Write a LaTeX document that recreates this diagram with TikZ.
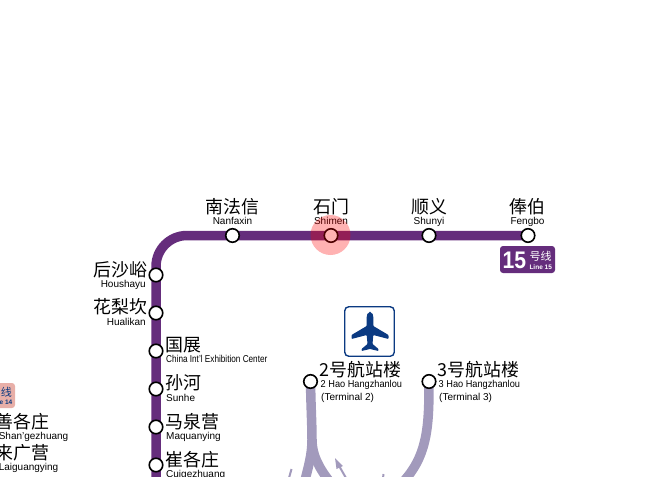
\documentclass[tikz,border=0pt]{standalone}
\usepackage{fontspec}
\usetikzlibrary{backgrounds}
\setmainfont{Liberation Sans}
\newfontfamily\cjk{Noto Sans CJK SC}
\definecolor{lnpurple}{HTML}{652D7C}
\definecolor{lnlilac}{HTML}{A29ABC}
\definecolor{lnblue}{HTML}{0B3A82}
\definecolor{lnpink}{HTML}{E8AFA8}
\begin{document}
\begin{tikzpicture}[
    x=1pt,y=-1pt,
    every node/.style={inner sep=0pt},
    stn/.style={circle, draw=black, fill=white, line width=1.6pt, minimum size=13.5pt},
    zh/.style={font=\cjk\fontsize{17.9}{18}\selectfont},
    py/.style={text height=7.2pt, text depth=0pt, font=\fontsize{10}{11}\selectfont},
    pyn/.style={py, font=\fontsize{10}{11}\selectfont\addfontfeature{FakeStretch=0.92}},
    pyc/.style={py, font=\fontsize{10}{11}\selectfont\addfontfeature{FakeStretch=0.82}},
    badgezh/.style={text height=8.5pt, text depth=0pt, font=\cjk\fontsize{11}{12}\selectfont},
    badgeen/.style={text height=4.6pt, text depth=0pt, font=\bfseries\fontsize{6.5}{7}\selectfont},
    lineXV/.style={draw=lnpurple, line width=9.5pt},
    apm/.style={draw=lnlilac, line width=9.5pt},
    apmthin/.style={draw=lnlilac, line width=2pt}
]
    \useasboundingbox (0,0) rectangle (660,476);

    % stations
    \node[stn] (fengbo) at (528,235.5) {};
    \node[stn] (shunyi) at (429,235.5) {};
    \node[stn] (shimen) at (331,235.5) {};
    \node[stn] (nanfaxin) at (232.5,235.5) {};
    \node[stn] (houshayu) at (156,275) {};
    \node[stn] (hualikan) at (156,313) {};
    \node[stn] (guozhan) at (156,351) {};
    \node[stn] (sunhe) at (156,389) {};
    \node[stn] (maquanying) at (156,427) {};
    \node[stn] (cuigezhuang) at (156,465) {};
    \node[stn] (hzlII) at (310.5,381.5) {};
    \node[stn] (hzlIII) at (429,381.5) {};

    \coordinate (corner) at (156,235.5);
    \coordinate (endXV) at (156,482);
    \coordinate (forkL) at (312,440);
    \coordinate (endL) at (304.5,482);
    \coordinate (endR) at (330,482);
    \coordinate (endT) at (403,482);

    \begin{scope}[on background layer]
        \draw[lineXV, rounded corners=31pt] (fengbo.center) -- (corner) -- (endXV);
        \draw[apm] (hzlII.center) .. controls (311,410) and (312,425) .. (forkL)
            .. controls (312,455) and (308,468) .. (endL);
        \draw[apm] (forkL) .. controls (312,455) and (319,468) .. (endR);
        \draw[apm] (hzlIII.center) .. controls (429,425) and (428,455) .. (endT);
    \end{scope}

    % names
    \node[zh] (nanfaxinzh) at (232.5,207) {南法信};
    \node[py] (nanfaxinpy) at (232.5,221) {Nanfaxin};
    \node[zh] (shimenzh) at (331,207) {石门};
    \node[py] (shimenpy) at (331,221) {Shimen};
    \node[zh] (shunyizh) at (429,207) {顺义};
    \node[py] (shunyipy) at (429,221) {Shunyi};
    \node[zh] (fengbozh) at (527.5,207) {俸伯};
    \node[py] (fengbopy) at (527.5,221) {Fengbo};

    \node[zh, anchor=east] (houshayuzh) at (147.5,270) {后沙峪};
    \node[py, anchor=east] (houshayupy) at (146,284) {Houshayu};
    \node[zh, anchor=east] (hualikanzh) at (147.5,307) {花梨坎};
    \node[py, anchor=east] (hualikanpy) at (146,321.5) {Hualikan};

    \node[zh, anchor=west] (guozhanzh) at (165.5,345) {国展};
    \node[pyc, anchor=west] (guozhanpy) at (166,359.3) {China Int'l Exhibition Center};
    \node[zh, anchor=west] (sunhezh) at (165.5,383) {孙河};
    \node[py, anchor=west] (sunhepy) at (166,397.5) {Sunhe};
    \node[zh, anchor=west] (maquanyingzh) at (165.5,421.5) {马泉营};
    \node[py, anchor=west] (maquanyingpy) at (166,435.5) {Maquanying};
    \node[zh, anchor=west] (cuigezhuangzh) at (165.5,459.5) {崔各庄};
    \node[py, anchor=west] (cuigezhuangpy) at (166,473.5) {Cuigezhuang};

    \node[zh, anchor=west] (hzlIIzh) at (319.5,370) {2号航站楼};
    \node[pyn, anchor=west] (hzlIIpy) at (320.5,384) {2 Hao Hangzhanlou};
    \node[py, anchor=west] (hzlIIen) at (321,397) {(Terminal 2)};
    \node[zh, anchor=west] (hzlIIIzh) at (437.5,370) {3号航站楼};
    \node[pyn, anchor=west] (hzlIIIpy) at (438.5,384) {3 Hao Hangzhanlou};
    \node[py, anchor=west] (hzlIIIen) at (439,397) {(Terminal 3)};

    \node[zh, anchor=east] (shangezhuangzh) at (49.5,421.5) {善各庄};
    \node[py, anchor=east] (shangezhuangpy) at (68.5,435.5) {Shan'gezhuang};
    \node[zh, anchor=east] (laiguangyingzh) at (49.5,453) {来广营};
    \node[py, anchor=east] (laiguangyingpy) at (58.5,466.5) {Laiguangying};

    % line badges
    \node[fill=lnpurple, rounded corners=3pt, minimum width=55pt, minimum height=27pt] (badgeXV) at (527.5,259.5) {};
    \node[text=white, font=\bfseries\fontsize{24}{24}\selectfont\addfontfeature{FakeStretch=0.88}, anchor=west] (badgeXVnum) at (502.5,260) {15};
    \node[badgezh, text=white] (badgeXVzh) at (540.7,256) {号线};
    \node[badgeen, text=white] (badgeXVen) at (540.7,267) {Line 15};

    \node[fill=lnpink, rounded corners=3pt, minimum width=30pt, minimum height=25pt] (badgeXIV) at (0,395.5) {};
    \node[badgezh, text=lnblue] (badgeXIVzh) at (6.5,392) {线};
    \node[badgeen, text=lnblue, anchor=east] (badgeXIVen) at (12.5,402) {Line 14};

    % airport sign
    \node[draw=lnblue, fill=white, line width=1.4pt, rounded corners=4pt, minimum size=49.5pt] (airport) at (369.5,331.5) {};
    \fill[lnblue, rounded corners=0.8pt] (370,312.5) .. controls (372.5,312.5) and (373.3,315) .. (373.3,318)
        -- (373.3,326) -- (388.5,335) -- (388.5,339) -- (373.3,335) -- (372.5,344) -- (378.5,349) -- (378.5,351)
        -- (370,349) -- (361.5,351) -- (361.5,349) -- (367.5,344) -- (366.7,335) -- (351.5,339) -- (351.5,335)
        -- (366.7,326) -- (366.7,318) .. controls (366.7,315) and (367.5,312.5) .. (370,312.5) -- cycle;

    % shuttle arrow and stray line ends
    \coordinate (arrowtail) at (346,478);
    \coordinate (arrowtip) at (335,458);
    \coordinate (sliverA) at (291.5,469);
    \coordinate (sliverB) at (289,478);
    \coordinate (sliverC) at (383.5,474);
    \coordinate (sliverD) at (383,478);
    \draw[apmthin] (arrowtail) -- (338,464);
    \fill[lnlilac] (arrowtip) -- (343,466) -- (336.5,469) -- cycle;
    \draw[apmthin] (sliverA) -- (sliverB);
    \draw[apmthin] (sliverC) -- (sliverD);

    % current station
    \node[circle, fill=red, opacity=0.3, minimum size=40pt] (marker) at (330.5,235) {};
\end{tikzpicture}
\end{document}
